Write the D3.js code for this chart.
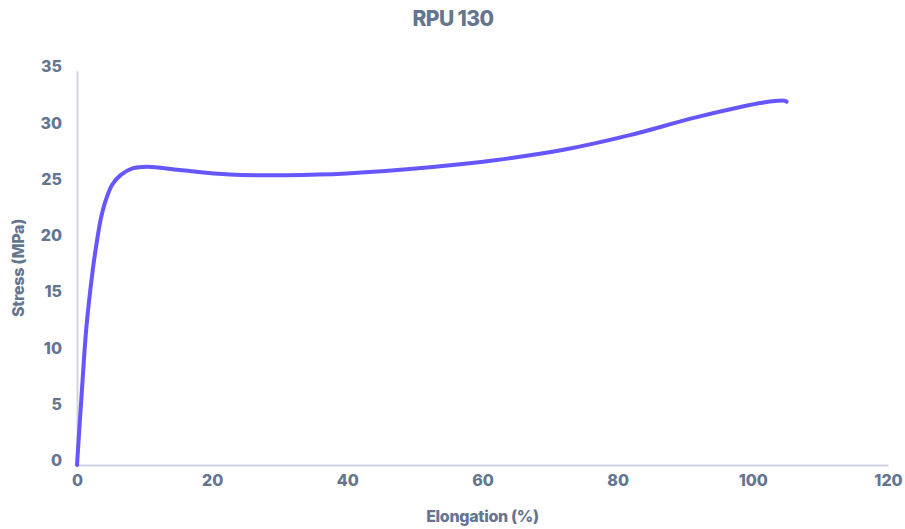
<!DOCTYPE html>
<html>
<head>
<meta charset="utf-8">
<script src="https://cdn.jsdelivr.net/npm/d3@7"></script>
<style>
  body { margin: 0; background: #fff; }
  text { font-family: Inter, "Open Sans", sans-serif; font-weight: 800; fill: #64768f; }
</style>
</head>
<body>
<div id="chart"></div>
<script>
const WIDTH  = 905
const HEIGHT = 529

// values
const elongation = [0, 0.7, 1.4, 2.37, 2.9, 3.5, 4.25, 5.2, 6.45, 8.2, 10.4, 15.2, 22.6, 31, 39.9, 52.2, 62.1, 72, 81.8, 91.7, 101.6, 104.8, 105]
const stress     = [0, 6.4, 12.3, 17.5, 19.7, 21.8, 23.5, 24.9, 25.75, 26.35, 26.5, 26.2, 25.8, 25.75, 25.9, 26.45, 27.1, 28.0, 29.3, 30.9, 32.2, 32.35, 32.27]

const xTicks = [0, 20, 40, 60, 80, 100, 120]
const yTicks = [0, 5, 10, 15, 20, 25, 30, 35]

const margin = { top: 71, right: 17, bottom: 64, left: 77 }

const svg = d3.select('#chart').append('svg')
    .attr('width', WIDTH)
    .attr('height', HEIGHT)

const x = d3.scaleLinear().domain([0, 120]).range([margin.left, WIDTH - margin.right])
const y = d3.scaleLinear().domain([0, 35]).range([HEIGHT - margin.bottom, margin.top])

const xAxis = svg.append('g')
    .attr('transform', `translate(0,${y(0)})`)
    .call(d3.axisBottom(x).tickValues(xTicks).tickSize(0).tickPadding(10))

const yAxis = svg.append('g')
    .attr('transform', `translate(${x(0)},0)`)
    .call(d3.axisLeft(y).tickValues(yTicks).tickSize(0).tickPadding(15))

;[xAxis, yAxis].forEach(a => {
    a.select('.domain').attr('stroke', '#d0d4dd').attr('stroke-width', 2)
    a.selectAll('text')
        .style('font-family', 'Inter, sans-serif')
        .style('font-weight', 800)
        .style('font-size', '16px')
        .attr('fill', '#64768f')
})
yAxis.selectAll('text').attr('dy', '0.05em')

const line = d3.line()
    .x(i => x(elongation[i]))
    .y(i => y(stress[i]))
    .curve(d3.curveCatmullRom.alpha(0.5))

svg.append('path')
    .datum(d3.range(elongation.length))
    .attr('d', line)
    .attr('fill', 'none')
    .attr('stroke', '#6656fd')
    .attr('stroke-width', 4)
    .attr('stroke-linecap', 'round')

svg.append('text')
    .attr('x', 453)
    .attr('y', 26)
    .attr('text-anchor', 'middle')
    .style('font-size', '21px')
    .style('letter-spacing', '-0.6px')
    .text('RPU 130')

svg.append('text')
    .attr('x', (x(0) + x(120)) / 2)
    .attr('y', 522)
    .attr('text-anchor', 'middle')
    .style('font-size', '16px')
    .style('letter-spacing', '-0.3px')
    .text('Elongation (%)')

svg.append('text')
    .attr('transform', `translate(24,${(y(0) + y(35)) / 2}) rotate(-90)`)
    .attr('text-anchor', 'middle')
    .style('font-size', '16px')
    .style('letter-spacing', '-0.3px')
    .text('Stress (MPa)')
</script>
</body>
</html>
